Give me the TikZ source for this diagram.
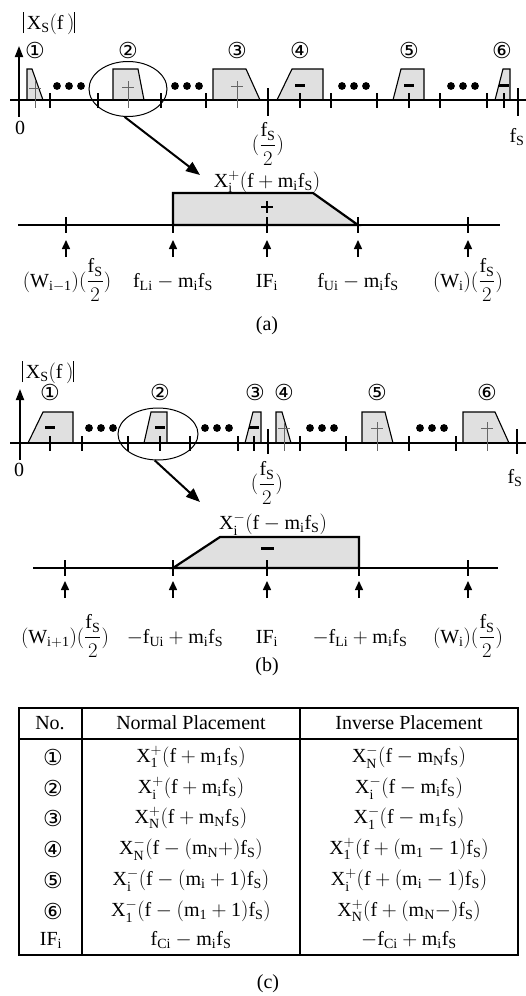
\documentclass[tikz,border=0pt]{standalone}
\usepackage{amsmath}
\usepackage{fontspec}
\setmainfont{Liberation Serif}
\setmathrm{Liberation Serif}
\newfontfamily\dvfont{DejaVu Sans}
\usetikzlibrary{arrows.meta,shapes.geometric}
\newcommand\fsz{\fontsize{20}{23}\selectfont}
\newcommand\fhalf{(\dfrac{\mathrm{f_S}}{2})}
\newcommand\absbar{\rule[-4pt]{0.9pt}{21pt}}
\newcommand\xsabs{\absbar\,$\mathrm{X_S(f\,)}$\absbar}
\begin{document}
\begin{tikzpicture}[x=1pt,y=-1pt,
  lbl/.style={inner sep=0pt, font=\fsz},
  circnum/.style={inner sep=0pt, font=\dvfont\fontsize{22}{22}\selectfont},
  axisline/.style={line width=1.8pt},
  blk/.style={draw, line width=1.1pt, fill=black!12},
  zblk/.style={draw, line width=2.2pt, fill=black!12},
  tk/.style={line width=1.1pt},
  bigtk/.style={line width=2.2pt},
  upar/.style={-{Triangle[length=9pt,width=8pt]}, line width=1.5pt},
  bigar/.style={-{Triangle[length=14pt,width=11pt]}, line width=2pt},
  vax/.style={-{Triangle[length=11pt,width=8pt]}, line width=1.8pt},
  pls/.style={line width=1pt, black!60},
  mns/.style={line width=3pt},
  zoomell/.style={draw, ellipse, line width=1pt, inner sep=0pt},
  tbl/.style={line width=1.8pt}
]
\useasboundingbox (0,0) rectangle (526,996);

% ================= (a) spectrum =================
\foreach \p in {
  {(27,100)--(27,69)--(32,69)--(43,100)--cycle},
  {(113,100)--(113,69)--(138,69)--(144,100)--cycle},
  {(213,100)--(213,69)--(246,69)--(260,100)--cycle},
  {(277,100)--(292,69)--(323,69)--(323,100)--cycle},
  {(393,100)--(401,69)--(424,69)--(424,100)--cycle},
  {(495,100)--(503,69)--(510,69)--(510,100)--cycle}}
  {\draw[blk] \p;}
\draw[axisline] (10,100) -- (526,100);
\coordinate (va0) at (19,117);
\coordinate (va1) at (19,46);
\draw[vax] (va0) -- (va1);
\node[lbl, anchor=base] (xsa) at (49,29) {\xsabs};
\node[lbl] (za) at (20,128) {0};
\foreach \x in {50,98,161,206,331,377,440,487} {\draw[tk] (\x,93) -- (\x,108);}
\foreach \x/\yy in {35/88,128/87,237/86} {
  \draw[pls] (\x,81) -- (\x,108);
  \draw[pls] (\x-6,\yy) -- (\x+6,\yy);}
\foreach \x in {300,409,504} {
  \draw[tk] (\x,93) -- (\x,108);
  \draw[mns] (\x-5,85) -- (\x+5,85);}
\draw[bigtk] (268,88) -- (268,116);
\draw[bigtk] (518,88) -- (518,116);
\node[lbl] (fha) at (268,144) {$\fhalf$};
\node[lbl] (fsa) at (517,137) {$\mathrm{f_S}$};
\foreach \x/\n in {35/1,128/2,237/3,300/4,409/5,502/6}
  {\node[circnum] (ca\n) at (\x,50) {\ifcase\n\or ①\or ②\or ③\or ④\or ⑤\or ⑥\fi};}
\foreach \cx in {69,187,354,463} {
  \foreach \d in {-12,0,12} {\fill (\cx+\d,86) circle (3.9pt);}}
\node[zoomell, minimum width=78pt, minimum height=55pt] (ea) at (128,89) {};
\coordinate (eat) at (200,175);
\draw[bigar] (ea.-97) -- (eat);

% ---- (a) zoom ----
\node[lbl] (xia) at (267,182) {$\mathrm{X_i^+(f+m_if_S)}$};
\draw[zblk] (173,225) -- (173,193) -- (313,193) -- (358,225) -- cycle;
\draw[line width=1.6pt] (18,225) -- (500,225);
\draw[line width=2.6pt] (261,207) -- (273,207);
\draw[line width=2.6pt] (267,201) -- (267,213);
\foreach \x/\n in {66/1,173/2,267/3,358/4,468/5} {
  \draw[tk] (\x,217) -- (\x,233);
  \coordinate (aub\n) at (\x,257);
  \coordinate (aut\n) at (\x,240);
  \draw[upar] (aub\n) -- (aut\n);}
\node[lbl, anchor=base] (la1) at (67,287) {$\mathrm{(W_{i-1})}\fhalf$};
\node[lbl, anchor=base] (la2) at (173,287) {$\mathrm{f_{Li}-m_if_S}$};
\node[lbl, anchor=base] (la3) at (267,287) {$\mathrm{IF_i}$};
\node[lbl, anchor=base] (la4) at (358,287) {$\mathrm{f_{Ui}-m_if_S}$};
\node[lbl, anchor=base] (la5) at (468,287) {$\mathrm{(W_i)}\fhalf$};
\node[lbl] (capa) at (267,326) {(a)};

% ================= (b) spectrum =================
\foreach \p in {
  {(28,443)--(43,412)--(73,412)--(73,443)--cycle},
  {(144,443)--(151,412)--(167,412)--(167,443)--cycle},
  {(245,443)--(253,412)--(261,412)--(261,443)--cycle},
  {(276,443)--(276,412)--(282,412)--(291,443)--cycle},
  {(362,443)--(362,412)--(385,412)--(393,443)--cycle},
  {(463,443)--(463,412)--(495,412)--(509,443)--cycle}}
  {\draw[blk] \p;}
\draw[axisline] (10,443) -- (526,443);
\coordinate (vb0) at (20,460);
\coordinate (vb1) at (20,389);
\draw[vax] (vb0) -- (vb1);
\node[lbl, anchor=base] (xsb) at (48,378) {\xsabs};
\node[lbl] (zb) at (19,470) {0};
\foreach \x in {82,128,190,238,300,346,409,456} {\draw[tk] (\x,436) -- (\x,451);}
\foreach \x in {50,160,254} {
  \draw[tk] (\x,436) -- (\x,451);
  \draw[mns] (\x-5,427) -- (\x+5,427);}
\foreach \x in {284,377,487} {
  \draw[pls] (\x,422) -- (\x,451);
  \draw[pls] (\x-6,428) -- (\x+6,428);}
\draw[bigtk] (268,429) -- (268,454);
\draw[bigtk] (517,429) -- (517,454);
\node[lbl] (fhb) at (267,483) {$\fhalf$};
\node[lbl] (fsb) at (515,478) {$\mathrm{f_S}$};
\foreach \x/\n in {50/1,160/2,255/3,284/4,377/5,487/6}
  {\node[circnum] (cb\n) at (\x,392) {\ifcase\n\or ①\or ②\or ③\or ④\or ⑤\or ⑥\fi};}
\foreach \cx in {101,217,322,432} {
  \foreach \d in {-12,0,12} {\fill (\cx+\d,428) circle (3.9pt);}}
\node[zoomell, minimum width=80pt, minimum height=52pt] (eb) at (158,434) {};
\coordinate (ebt) at (200,502);
\draw[bigar] (eb.-97) -- (ebt);

% ---- (b) zoom ----
\node[lbl] (xib) at (273,524) {$\mathrm{X_i^-(f-m_if_S)}$};
\draw[zblk] (173,568) -- (220,537) -- (359,537) -- (359,568) -- cycle;
\draw[line width=1.6pt] (33,568) -- (498,568);
\draw[mns] (261,548) -- (274,548);
\foreach \x/\n in {65/1,173/2,267/3,359/4,468/5} {
  \draw[tk] (\x,560) -- (\x,576);
  \coordinate (bub\n) at (\x,598);
  \coordinate (but\n) at (\x,581);
  \draw[upar] (bub\n) -- (but\n);}
\node[lbl, anchor=base] (lb1) at (65,643) {$\mathrm{(W_{i+1})}\fhalf$};
\node[lbl, anchor=base] (lb2) at (175,643) {$\mathrm{-f_{Ui}+m_if_S}$};
\node[lbl, anchor=base] (lb3) at (267,643) {$\mathrm{IF_i}$};
\node[lbl, anchor=base] (lb4) at (360,643) {$\mathrm{-f_{Li}+m_if_S}$};
\node[lbl, anchor=base] (lb5) at (468,643) {$\mathrm{(W_i)}\fhalf$};
\node[lbl] (capb) at (267,667) {(b)};

% ================= (c) table =================
\draw[tbl] (19,708) rectangle (518,955);
\draw[line width=1.5pt] (19,739) -- (518,739);
\draw[line width=1.5pt] (82,708) -- (82,955);
\draw[line width=1.8pt] (300,708) -- (300,955);
\node[lbl] (h1) at (50,723) {No.};
\node[lbl] (h2) at (191,723) {Normal Placement};
\node[lbl] (h3) at (409,723) {Inverse Placement};
\foreach \y/\n in {757/1,788/2,818/3,849/4,880/5,911/6}
  {\node[circnum] (r\n) at (53,\y) {\ifcase\n\or ①\or ②\or ③\or ④\or ⑤\or ⑥\fi};}
\node[lbl] (r7) at (51,940) {$\mathrm{IF_i}$};
\node[lbl] (n1) at (191,757) {$\mathrm{X_1^+(f+m_1f_S)}$};
\node[lbl] (n2) at (191,788) {$\mathrm{X_i^+(f+m_if_S)}$};
\node[lbl] (n3) at (191,818) {$\mathrm{X_N^+(f+m_Nf_S)}$};
\node[lbl] (n4) at (191,849) {$\mathrm{X_N^-(f-(m_N{+})f_S)}$};
\node[lbl] (n5) at (191,880) {$\mathrm{X_i^-(f-(m_i+1)f_S)}$};
\node[lbl] (n6) at (191,911) {$\mathrm{X_1^-(f-(m_1+1)f_S)}$};
\node[lbl] (n7) at (191,940) {$\mathrm{f_{Ci}-m_if_S}$};
\node[lbl] (i1) at (409,757) {$\mathrm{X_N^-(f-m_Nf_S)}$};
\node[lbl] (i2) at (409,788) {$\mathrm{X_i^-(f-m_if_S)}$};
\node[lbl] (i3) at (409,818) {$\mathrm{X_1^-(f-m_1f_S)}$};
\node[lbl] (i4) at (409,849) {$\mathrm{X_1^+(f+(m_1-1)f_S)}$};
\node[lbl] (i5) at (409,880) {$\mathrm{X_i^+(f+(m_i-1)f_S)}$};
\node[lbl] (i6) at (409,911) {$\mathrm{X_N^+(f+(m_N{-})f_S)}$};
\node[lbl] (i7) at (409,940) {$\mathrm{-f_{Ci}+m_if_S}$};
\node[lbl] (capc) at (268,984) {(c)};
\end{tikzpicture}
\end{document}
